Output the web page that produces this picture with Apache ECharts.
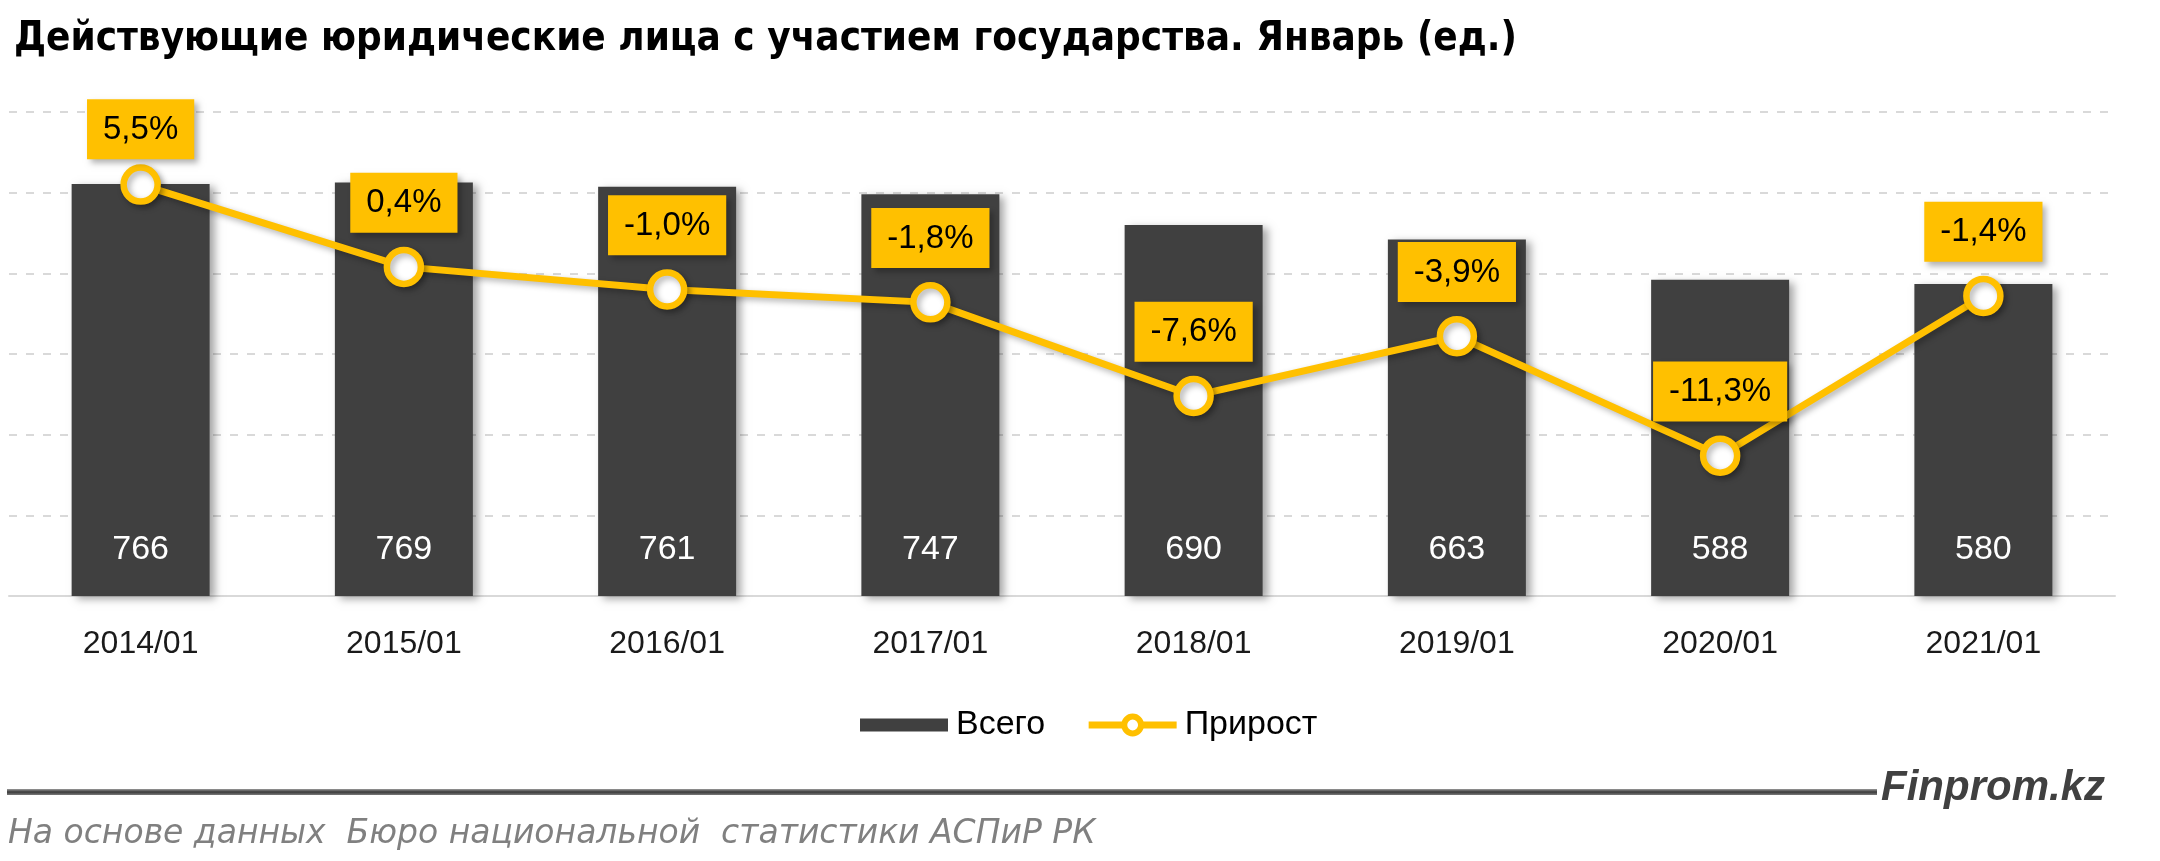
<!DOCTYPE html>
<html>
<head>
<meta charset="utf-8">
<script src="https://cdn.jsdelivr.net/npm/echarts@6/dist/echarts.min.js"></script>
<style>
html,body{margin:0;padding:0;background:#fff;}
#chart{width:2160px;height:861px;}
</style>
</head>
<body>
<div id="chart"></div>
<script>
var categories = ['2014/01','2015/01','2016/01','2017/01','2018/01','2019/01','2020/01','2021/01'];
var totals = [766, 769, 761, 747, 690, 663, 588, 580];
var growth = [5.5, 0.4, -1.0, -1.8, -7.6, -3.9, -11.3, -1.4];
var seriesNames = ['Всего', 'Прирост'];
var titleText = 'Действующие юридические лица с участием государства. Январь (ед.)';
var brandText = 'Finprom.kz';
var sourceText = 'На основе данных  Бюро национальной  статистики АСПиР РК';

var GOLD = '#FFC000';
var DARK = '#404040';
var FONT = "'Liberation Sans', Arial, sans-serif";

var chart = echarts.init(document.getElementById('chart'), null, {renderer: 'canvas'});

function pct(v) { return v.toFixed(1).replace('.', ',') + '%'; }

var option = {
  animation: false,
  backgroundColor: '#ffffff',
  title: {
    text: titleText,
    left: 9,
    top: 15,
    textStyle: {
      fontFamily: "'Liberation Sans Narrow', 'DejaVu Sans Condensed', sans-serif",
      fontWeight: 'bold',
      fontSize: 40,
      color: '#000000'
    }
  },
  grid: { left: 9, right: 45, top: 112, bottom: 265, containLabel: false },
  legend: {
    left: 855,
    top: 703,
    itemWidth: 88,
    itemHeight: 21,
    itemGap: 40,
    textStyle: { fontFamily: FONT, fontSize: 34, color: '#000000', padding: [0, 0, 0, 3] },
    data: [
      { name: seriesNames[0], icon: 'path://M0,0 H88 V13 H0 Z' },
      { name: seriesNames[1], itemStyle: { borderWidth: 6, color: '#ffffff', borderColor: GOLD }, lineStyle: { width: 7 } }
    ]
  },
  xAxis: {
    type: 'category',
    data: categories,
    axisLine: { show: true, lineStyle: { color: '#d9d9d9', width: 2 } },
    axisTick: { show: false },
    axisLabel: { fontFamily: FONT, fontSize: 32, color: '#1a1a1a', margin: 32 }
  },
  yAxis: [
    {
      type: 'value', min: 0, max: 900, interval: 150,
      axisLabel: { show: false }, axisLine: { show: false }, axisTick: { show: false },
      splitLine: { show: true, lineStyle: { color: '#d9d9d9', width: 2, type: [8, 9] } }
    },
    {
      type: 'value', min: -20, max: 10, interval: 5,
      axisLabel: { show: false }, axisLine: { show: false }, axisTick: { show: false },
      splitLine: { show: false }
    }
  ],
  series: [
    {
      name: seriesNames[0],
      type: 'bar',
      yAxisIndex: 0,
      data: totals,
      barWidth: 138,
      itemStyle: {
        color: DARK,
        shadowColor: 'rgba(0,0,0,0.35)', shadowBlur: 8, shadowOffsetX: 5, shadowOffsetY: 3
      },
      label: {
        show: true, position: 'insideBottom', distance: 29,
        fontFamily: FONT, fontSize: 34, color: '#ffffff'
      },
      z: 2
    },
    {
      name: seriesNames[1],
      type: 'line',
      yAxisIndex: 1,
      data: growth.map(function (v, i) { return i === 0 ? { value: v, label: { distance: 5 } } : v; }),
      symbol: 'circle',
      symbolSize: 34,
      lineStyle: {
        color: GOLD, width: 7,
        shadowColor: 'rgba(0,0,0,0.3)', shadowBlur: 6, shadowOffsetX: 3, shadowOffsetY: 3
      },
      itemStyle: {
        color: '#ffffff', borderColor: GOLD, borderWidth: 6.5,
        shadowColor: 'rgba(0,0,0,0.3)', shadowBlur: 6, shadowOffsetX: 3, shadowOffsetY: 3
      },
      label: {
        show: true, position: 'top', distance: 14,
        formatter: function (p) { return pct(p.value); },
        fontFamily: FONT, fontSize: 33, color: '#000000',
        backgroundColor: GOLD, padding: [14, 16, 13, 16],
        shadowColor: 'rgba(0,0,0,0.3)', shadowBlur: 6, shadowOffsetX: 4, shadowOffsetY: 4
      },
      z: 5
    }
  ],
  graphic: [
    {
      type: 'rect', left: 7, top: 789,
      shape: { width: 1870, height: 6 },
      style: {
        fill: new echarts.graphic.LinearGradient(0, 0, 0, 1, [
          { offset: 0, color: '#9a9a9a' },
          { offset: 0.5, color: '#3a3a3a' },
          { offset: 1, color: '#7a7a7a' }
        ])
      },
      silent: true
    },
    {
      type: 'text', left: 1881, top: 767,
      style: {
        text: brandText,
        font: "italic bold 42px 'Liberation Sans', Arial, sans-serif",
        fill: '#404040'
      },
      silent: true
    },
    {
      type: 'text', left: 8, top: 818,
      style: {
        text: sourceText,
        font: "italic 33px 'DejaVu Sans', sans-serif",
        fill: '#808080'
      },
      silent: true
    }
  ]
};

chart.setOption(option);
</script>
</body>
</html>
